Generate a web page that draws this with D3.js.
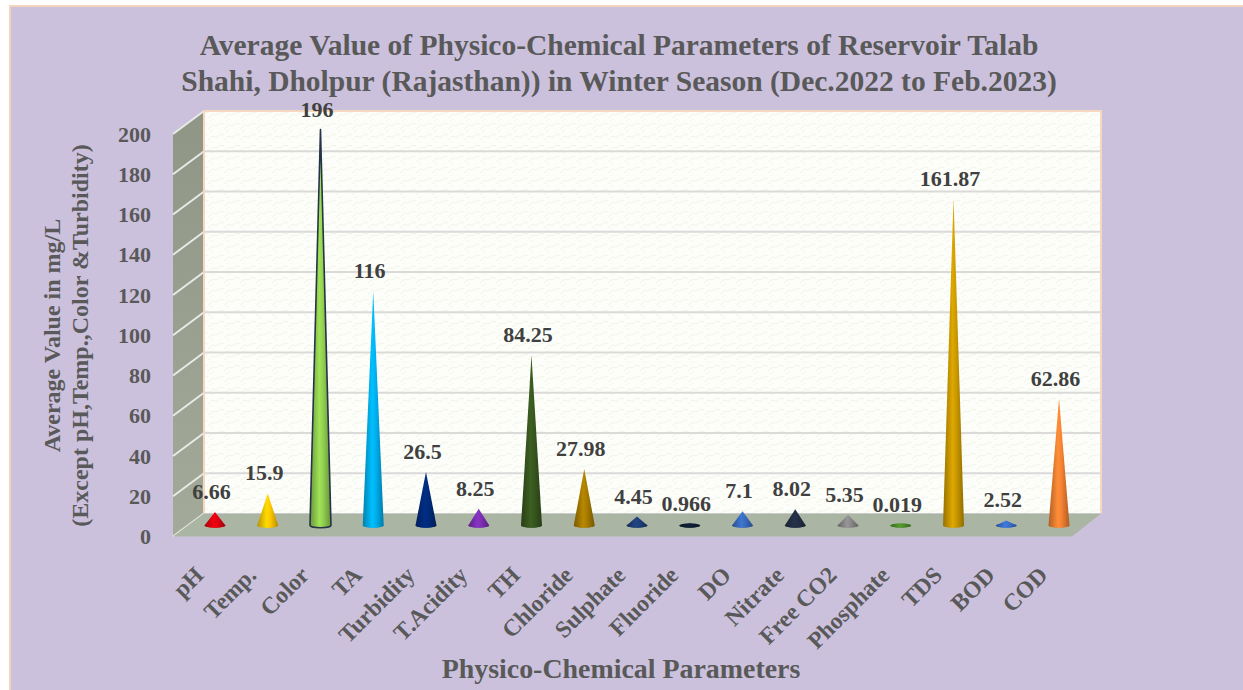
<!DOCTYPE html>
<html><head><meta charset="utf-8">
<script src="https://cdn.jsdelivr.net/npm/d3@7"></script>
<style>html,body{margin:0;padding:0;background:#fff}svg{display:block}text{font-family:"Liberation Serif",serif;font-weight:bold}</style>
</head><body><svg id="c" width="1243" height="690"></svg>
<script>
const categories=["pH","Temp.","Color","TA","Turbidity","T.Acidity","TH","Chloride","Sulphate","Fluoride","DO","Nitrate","Free CO2","Phosphate","TDS","BOD","COD"];
const values=[6.66,15.9,196,116,26.5,8.25,84.25,27.98,4.45,0.966,7.1,8.02,5.35,0.019,161.87,2.52,62.86];
const valueLabels=["6.66","15.9","196","116","26.5","8.25","84.25","27.98","4.45","0.966","7.1","8.02","5.35","0.019","161.87","2.52","62.86"];
const coneColors=["#e0000f","#ffc800","#92d050","#00b0f0","#002a7a","#7d2fb5","#38571f","#a87c00","#1f4079","#0f1f33","#3a6cc0","#222f44","#8a8a8a","#4e8f2a","#cc9a00","#3a70cc","#f58232"];
const yTicks=[0,20,40,60,80,100,120,140,160,180,200];
const titleLines=["Average Value of Physico-Chemical Parameters of Reservoir Talab","Shahi, Dholpur (Rajasthan)) in Winter Season (Dec.2022 to Feb.2023)"];
const yTitleLines=["Average Value in mg/L","(Except pH,Temp.,Color &Turbidity)"];
const xTitle="Physico-Chemical Parameters";

const svg=d3.select("#c"),defs=svg.append("defs");
const ink="#595959";
// frame
svg.append("rect").attr("x",10).attr("y",6).attr("width",1233).attr("height",684).attr("fill","#cbc1dc");
svg.append("path").attr("d","M10,690V6H1243").attr("fill","none").attr("stroke","#f6d3bd").attr("stroke-width",2);

// scales: front edge, back wall, and the cone plane between them
const yFront=d3.scaleLinear().domain([0,200]).range([536.5,134]);
const yBack=d3.scaleLinear().domain([0,200]).range([513.5,111]);
const yCone=d3.scaleLinear().domain([0,200]).range([525.5,121.5]);
const x=d3.scaleBand().domain(categories).range([188.6,1085.4]).paddingInner(0).paddingOuter(0);
const cx=c=>x(c)+x.bandwidth()/2;
const wall={l:204,r:1101},front={l:173,r:1072};

// wall pattern
const p=defs.append("pattern").attr("id","wave").attr("patternUnits","userSpaceOnUse").attr("width",16).attr("height",11);
p.append("rect").attr("width",16).attr("height",11).attr("fill","#fdfefa");
p.append("path").attr("d","M0,8 L5,4 L8,5 L13,2 L16,3 M0,13 L5,9 M11,0 L16,-3").attr("fill","none").attr("stroke","#eef5e6").attr("stroke-width",1);
const sg=defs.append("linearGradient").attr("id","side").attr("x1",0).attr("x2",0).attr("y1",0).attr("y2",1);
sg.append("stop").attr("offset",0).attr("stop-color","#8f9685");
sg.append("stop").attr("offset",1).attr("stop-color","#a3aa99");

// back wall
svg.append("rect").attr("x",wall.l).attr("y",yBack(200)).attr("width",wall.r-wall.l).attr("height",yBack(0)-yBack(200)).attr("fill","url(#wave)");
// side wall
svg.append("path").attr("d",`M${front.l},${yFront(200)}L${wall.l},${yBack(200)}V${yBack(0)}L${front.l},${yFront(0)}Z`).attr("fill","url(#side)");
// gridlines
const gridTicks=yTicks.filter(d=>d>0&&d<200);
svg.append("g").selectAll("line").data(gridTicks).join("line")
 .attr("x1",wall.l).attr("x2",wall.r).attr("y1",d=>yBack(d)).attr("y2",d=>yBack(d)).attr("stroke","#dcdad9").attr("stroke-width",2);
svg.append("g").selectAll("line").data(yTicks).join("line")
 .attr("x1",front.l).attr("x2",wall.l).attr("y1",d=>yFront(d)).attr("y2",d=>yBack(d)).attr("stroke","#e9e9e6").attr("stroke-width",2);
// wall border
svg.append("path").attr("d",`M${wall.l},${yBack(0)}V${yBack(200)}H${wall.r}V${yBack(0)}`).attr("fill","none").attr("stroke","#f6d8c0").attr("stroke-width",2);
// floor
svg.append("path").attr("d",`M${front.l},${yFront(0)}L${wall.l},${yBack(0)}H${wall.r}L${front.r},${yFront(0)}Z`).attr("fill","#abb5a4");

// cones
const bw=10.5,ry=2.2;
categories.forEach((c,i)=>{
 const g=defs.append("linearGradient").attr("id","cone"+i);
 const col=d3.color(coneColors[i]);
 g.append("stop").attr("offset",0).attr("stop-color",col.darker(0.9));
 g.append("stop").attr("offset",0.45).attr("stop-color",col.brighter(0.25));
 g.append("stop").attr("offset",0.62).attr("stop-color",col);
 g.append("stop").attr("offset",1).attr("stop-color",col.darker(1));
});
// base discs, so that near-zero values still show as an ellipse
svg.append("g").selectAll("ellipse").data(categories).join("ellipse")
 .attr("cx",cx).attr("cy",yCone(0)).attr("rx",bw).attr("ry",ry)
 .attr("fill",(c,i)=>`url(#cone${i})`);
svg.append("g").selectAll("path").data(categories).join("path")
 .attr("d",(c,i)=>{const X=cx(c),b=yCone(0),t=yCone(values[i]);
   return `M${X-bw},${b}L${X},${t}L${X+bw},${b}A${bw},${ry} 0 0 1 ${X-bw},${b}Z`;})
 .attr("fill",(c,i)=>`url(#cone${i})`)
 .attr("stroke",c=>c==="Color"?"#26344a":"none")
 .attr("stroke-width",c=>c==="Color"?1.6:0)
 .attr("stroke-linejoin","round");

// data labels
svg.append("g").selectAll("text").data(categories).join("text")
 .attr("x",c=>cx(c)-3.5)
 .attr("y",(c,i)=>yCone(values[i])-13)
 .attr("text-anchor","middle").attr("font-size",22).attr("fill","#404040")
 .text((c,i)=>valueLabels[i]);

// y axis
const ya=svg.append("g").attr("transform",`translate(${front.l},0)`)
 .call(d3.axisLeft(yFront).tickValues(yTicks).tickSize(0).tickPadding(22));
ya.select(".domain").remove();
ya.selectAll("text").attr("font-size",22).attr("fill",ink).style("font-family",'"Liberation Serif",serif').style("font-weight","bold");

// x axis
const xa=svg.append("g").attr("transform",`translate(0,${yFront(0)})`).call(d3.axisBottom(x).tickSize(0));
xa.select(".domain").remove();
xa.selectAll("text")
 .attr("text-anchor","end").attr("x",0).attr("y",0).attr("dy",0)
 .attr("transform","translate(-10,40) rotate(-45)")
 .attr("font-size",23.5).attr("fill",ink).style("font-family",'"Liberation Serif",serif').style("font-weight","bold");

// titles
svg.append("g").selectAll("text").data(titleLines).join("text")
 .attr("x",619).attr("y",(d,i)=>55+i*35.5).attr("text-anchor","middle").attr("font-size",29.5).attr("fill",ink).text(d=>d);
svg.append("g").selectAll("text").data(yTitleLines).join("text")
 .attr("transform",(d,i)=>`translate(${60+i*27.5},335.5) rotate(-90)`).attr("text-anchor","middle").attr("font-size",24).attr("fill",ink).text(d=>d);
svg.append("text").attr("x",621).attr("y",678).attr("text-anchor","middle").attr("font-size",27.9).attr("fill",ink).text(xTitle);
</script></body></html>
